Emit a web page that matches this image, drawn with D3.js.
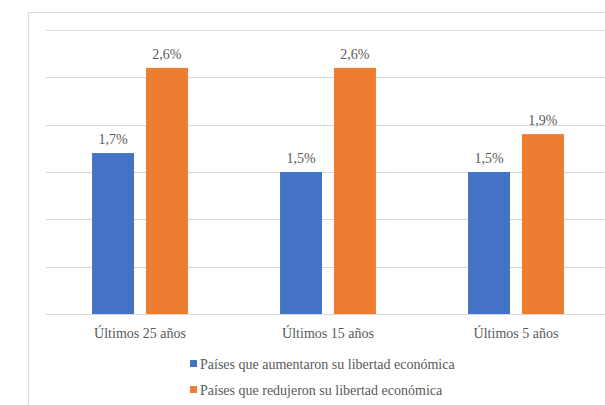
<!DOCTYPE html>
<html>
<head>
<meta charset="utf-8">
<script src="https://cdn.jsdelivr.net/npm/d3@7"></script>
<style>
  body { margin: 0; background: #fff; }
</style>
</head>
<body>
<div id="chart"></div>
<script>
const categories = ["Últimos 25 años", "Últimos 15 años", "Últimos 5 años"];
const seriesNames = [
    "Países que aumentaron su libertad económica",
    "Países que redujeron su libertad económica"
];
const aumentaron = [1.7, 1.5, 1.5];
const redujeron = [2.6, 2.6, 1.9];
const yTicks = [0, 0.5, 1, 1.5, 2, 2.5, 3];

const colors = ["#4472C4", "#ED7D31"];
const TEXT_COLOR = "#595959";
const GRID_COLOR = "#d9d9d9";
const FONT = "'Liberation Serif', 'Times New Roman', serif";

const width = 605;
const height = 405;
const plotLeft = 46;
const plotRight = 610;
const plotTop = 30;
const plotBottom = 314;

const svg = d3.select("#chart")
    .append("svg")
    .attr("width", width)
    .attr("height", height)
    .style("display", "block");

// chart area frame (only top and left edges fall inside the window)
svg.append("path")
    .attr("d", `M28.5,${height} V12.5 H${width}`)
    .attr("fill", "none")
    .attr("stroke", GRID_COLOR)
    .attr("stroke-width", 1);

const x0 = d3.scaleBand()
    .domain(categories)
    .range([plotLeft, plotRight])
    .paddingInner(0.49)
    .paddingOuter(0.245);

const x1 = d3.scaleBand()
    .domain(seriesNames)
    .range([0, x0.bandwidth()])
    .paddingInner(0.222);

const y = d3.scaleLinear()
    .domain([0, 3])
    .range([plotBottom, plotTop]);

svg.append("g")
    .attr("class", "grid")
    .selectAll("line")
    .data(yTicks)
    .enter()
    .append("line")
    .attr("x1", plotLeft)
    .attr("x2", width)
    .attr("y1", d => Math.round(y(d)) + 0.5)
    .attr("y2", d => Math.round(y(d)) + 0.5)
    .attr("stroke", GRID_COLOR)
    .attr("stroke-width", 1);

const rows = categories.map((c, i) => ({
    category: c,
    values: [
        { series: seriesNames[0], value: aumentaron[i], color: colors[0] },
        { series: seriesNames[1], value: redujeron[i], color: colors[1] }
    ]
}));

const groups = svg.append("g")
    .selectAll("g")
    .data(rows)
    .enter()
    .append("g")
    .attr("transform", d => `translate(${x0(d.category)},0)`);

groups.selectAll("rect")
    .data(d => d.values)
    .enter()
    .append("rect")
    .attr("x", d => x1(d.series))
    .attr("y", d => y(d.value))
    .attr("width", x1.bandwidth())
    .attr("height", d => y(0) - y(d.value))
    .attr("fill", d => d.color);

groups.selectAll("text")
    .data(d => d.values)
    .enter()
    .append("text")
    .attr("x", d => x1(d.series) + x1.bandwidth() / 2)
    .attr("y", d => y(d.value) - 9)
    .attr("text-anchor", "middle")
    .attr("fill", TEXT_COLOR)
    .style("font-family", FONT)
    .style("font-size", "14px")
    .text(d => d.value.toFixed(1).replace(".", ",") + "%");

// category labels
svg.append("g")
    .selectAll("text")
    .data(categories)
    .enter()
    .append("text")
    .attr("x", d => x0(d) + x0.bandwidth() / 2)
    .attr("y", 338)
    .attr("text-anchor", "middle")
    .attr("fill", TEXT_COLOR)
    .style("font-family", FONT)
    .style("font-size", "14px")
    .text(d => d);

// legend
const legend = svg.append("g")
    .selectAll("g")
    .data(seriesNames)
    .enter()
    .append("g")
    .attr("transform", (d, i) => `translate(190,${364 + i * 26})`);

legend.append("rect")
    .attr("x", 0)
    .attr("y", -4)
    .attr("width", 7)
    .attr("height", 7)
    .attr("fill", (d, i) => colors[i]);

legend.append("text")
    .attr("x", 10)
    .attr("y", 5)
    .attr("fill", TEXT_COLOR)
    .style("font-family", FONT)
    .style("font-size", "14px")
    .text(d => d);
</script>
</body>
</html>
